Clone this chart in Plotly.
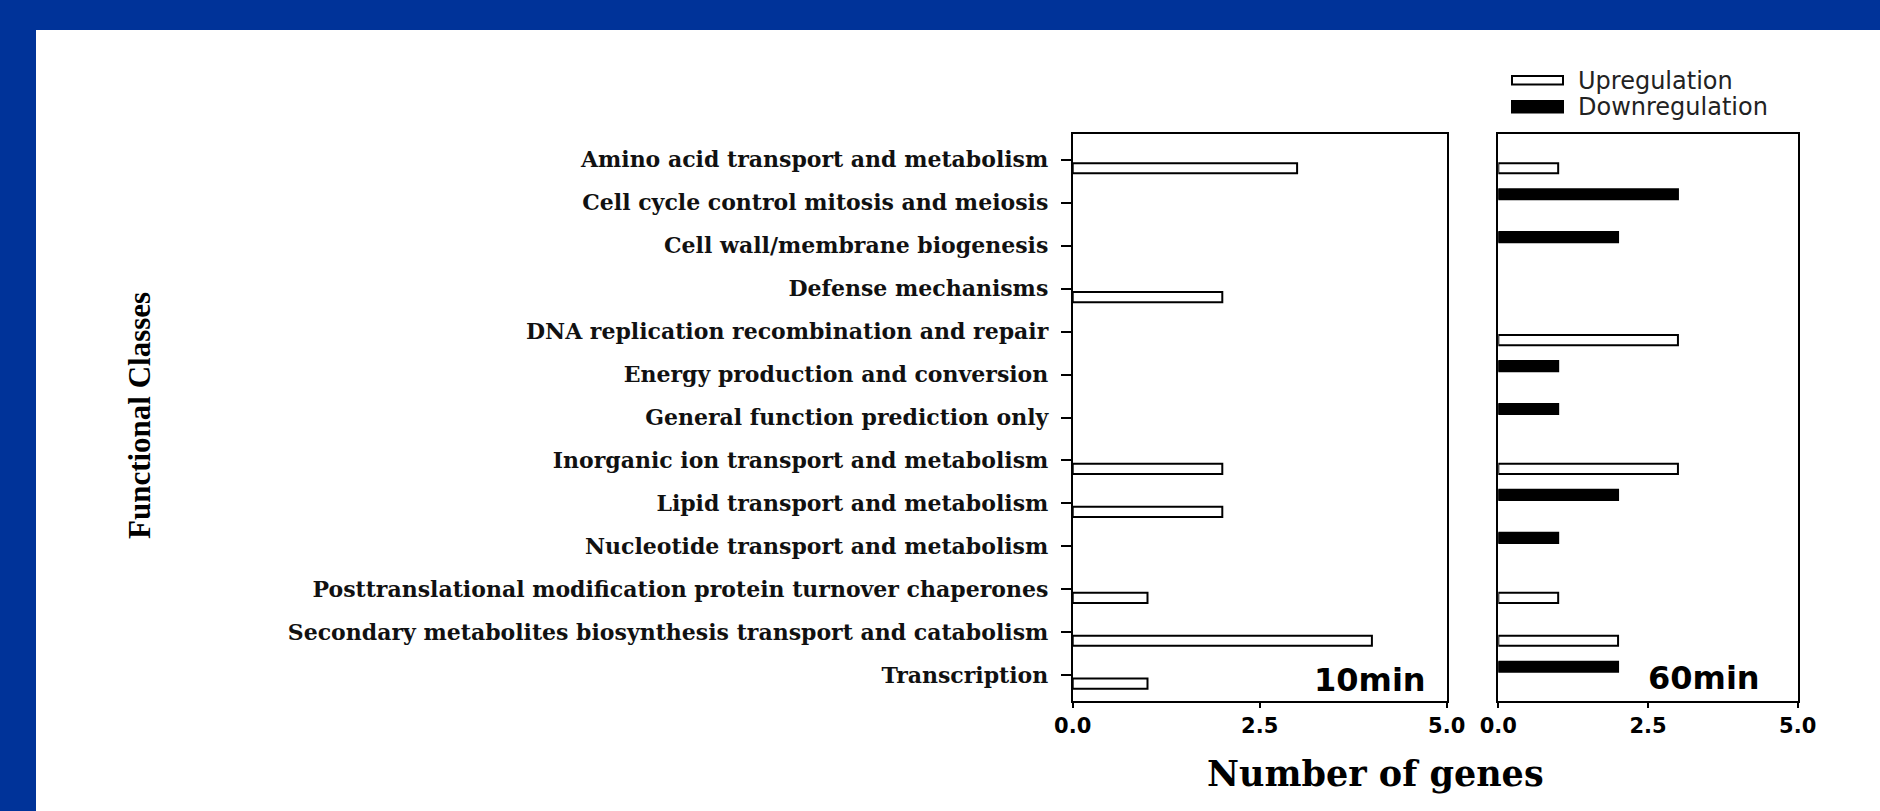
import plotly.graph_objects as go

categories = [
    "Amino acid transport and metabolism",
    "Cell cycle control mitosis and meiosis",
    "Cell wall/membrane biogenesis",
    "Defense mechanisms",
    "DNA replication recombination and repair",
    "Energy production and conversion",
    "General function prediction only",
    "Inorganic ion transport and metabolism",
    "Lipid transport and metabolism",
    "Nucleotide transport and metabolism",
    "Posttranslational modification protein turnover chaperones",
    "Secondary metabolites biosynthesis transport and catabolism",
    "Transcription",
]
up_10min = [3, None, None, 2, None, None, None, 2, 2, None, 1, 4, 1]
down_10min = [None] * 13
up_60min = [1, None, None, None, 3, None, None, 3, None, None, 1, 2, None]
down_60min = [None, 3, 2, None, None, 1, 1, None, 2, 1, None, None, 2]
panel_labels = ["10min", "60min"]
x_ticks = [0, 2.5, 5]

W, H = 1880, 811
def px_x(v): return v / W
def px_y(v): return 1 - v / H

fig = go.Figure()
for i, (up, down) in enumerate([(up_10min, down_10min), (up_60min, down_60min)]):
    xa = "x" if i == 0 else "x2"
    ya = "y" if i == 0 else "y2"
    fig.add_trace(go.Bar(y=categories, x=down, orientation="h", name="Downregulation",
                         marker=dict(color="black", line=dict(color="black", width=2)),
                         offsetgroup="down", xaxis=xa, yaxis=ya, showlegend=False))
    fig.add_trace(go.Bar(y=categories, x=up, orientation="h", name="Upregulation",
                         marker=dict(color="white", line=dict(color="black", width=2)),
                         offsetgroup="up", xaxis=xa, yaxis=ya, showlegend=False))

y_top, y_bot = 134, 701
axis_common = dict(showline=True, linewidth=2, linecolor="black", mirror=True,
                   showgrid=False, zeroline=False)
xaxis_common = dict(range=[0, 5], tickvals=x_ticks, tickformat=".1f", ticks="outside",
                    ticklen=5, tickwidth=2, tickcolor="black",
                    tickfont=dict(family="DejaVu Sans", size=21, color="black", weight="bold"),
                    automargin=False, **axis_common)
yaxis_common = dict(type="category", categoryorder="array", categoryarray=categories,
                    range=[12.6, -0.6], domain=[px_y(y_bot), px_y(y_top)],
                    automargin=False, **axis_common)

fig.update_layout(
    width=W, height=H,
    margin=dict(l=0, r=0, t=0, b=0),
    paper_bgcolor="white",
    plot_bgcolor="white",
    barmode="group", bargap=0.21, bargroupgap=0.4,
    xaxis=dict(domain=[px_x(1072.7), px_x(1446.7)], anchor="y", **xaxis_common),
    xaxis2=dict(domain=[px_x(1498.3), px_x(1797.7)], anchor="y2", **xaxis_common),
    yaxis=dict(anchor="x", ticks="outside", ticklen=10, tickwidth=2, tickcolor="black",
               ticklabelstandoff=8,
               tickfont=dict(family="DejaVu Serif", size=22, color="#111", weight="bold"),
               **yaxis_common),
    yaxis2=dict(anchor="x2", ticks="", showticklabels=False, **yaxis_common),
    showlegend=False,
)

BLUE = "#003399"
shapes = [
    # slide frame: top band and left band
    dict(type="rect", xref="paper", yref="paper", x0=-0.01, x1=1.01, y0=px_y(30), y1=1.01,
         fillcolor=BLUE, line=dict(width=0), layer="below"),
    dict(type="rect", xref="paper", yref="paper", x0=-0.01, x1=px_x(36), y0=-0.01, y1=1.01,
         fillcolor=BLUE, line=dict(width=0), layer="below"),
    # legend swatches
    dict(type="rect", xref="paper", yref="paper", x0=px_x(1512), x1=px_x(1563),
         y0=px_y(84.5), y1=px_y(76), fillcolor="white", line=dict(color="black", width=2)),
    dict(type="rect", xref="paper", yref="paper", x0=px_x(1512), x1=px_x(1563),
         y0=px_y(112.5), y1=px_y(101), fillcolor="black", line=dict(color="black", width=2)),
]
fig.update_layout(shapes=shapes)

annotations = [
    dict(text="Upregulation", x=px_x(1576), y=px_y(80.5), xanchor="left", yanchor="middle",
         font=dict(family="DejaVu Sans", size=24, color="#222")),
    dict(text="Downregulation", x=px_x(1576), y=px_y(106.5), xanchor="left", yanchor="middle",
         font=dict(family="DejaVu Sans", size=24, color="#222")),
    dict(text=panel_labels[0], x=px_x(1428), y=px_y(680), xanchor="right", yanchor="middle",
         font=dict(family="DejaVu Sans", size=32, color="black", weight="bold")),
    dict(text=panel_labels[1], x=px_x(1762), y=px_y(678), xanchor="right", yanchor="middle",
         font=dict(family="DejaVu Sans", size=32, color="black", weight="bold")),
    dict(text="Functional Classes", x=px_x(139), y=px_y(416), textangle=-90,
         xanchor="center", yanchor="middle",
         font=dict(family="Liberation Serif", size=31, color="black", weight="bold")),
    dict(text="Number of genes", x=px_x(1375), y=px_y(773), xanchor="center", yanchor="middle",
         font=dict(family="DejaVu Serif", size=35, color="black", weight="bold")),
]
for a in annotations:
    a.update(xref="paper", yref="paper", showarrow=False)
fig.update_layout(annotations=annotations)

fig.write_html(
    "out.html",
    config={"displayModeBar": False},
    post_script="document.body.style.margin='0';"
                "document.documentElement.style.overflow='hidden';",
)
